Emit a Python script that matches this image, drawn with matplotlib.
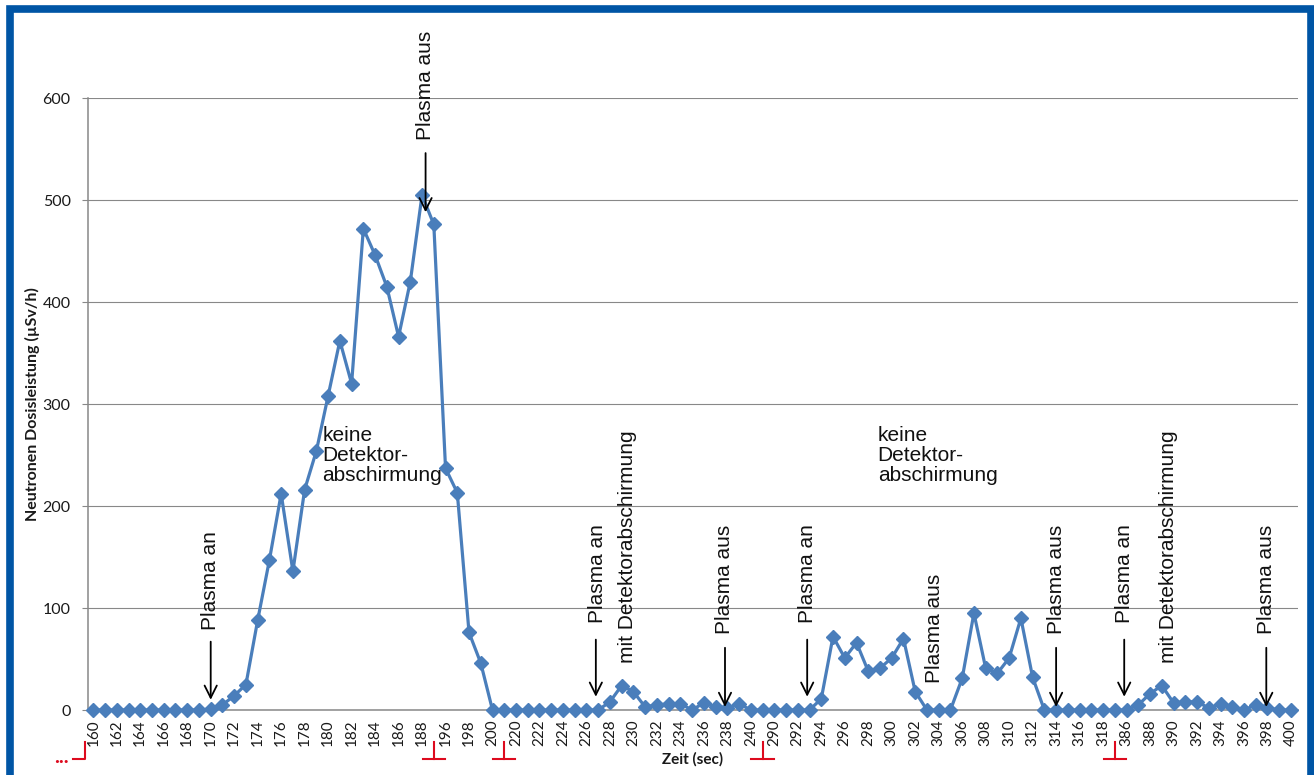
import numpy as np
import matplotlib
matplotlib.use("Agg")
from matplotlib import pyplot as plt
from matplotlib.patches import Rectangle
import matplotlib.transforms as mtransforms

plt.rcParams['font.family'] = ['Lato', 'DejaVu Sans']

# Zeitabschnitte (sec): Anfang und Ende jedes Abschnitts, der letzte Wert
# jedes Abschnitts ist die versteckte Kategorie an der Achsenunterbrechung
abschnitte = [(160, 189), (196, 201), (220, 241), (290, 319), (386, 400)]
zeit = []
for a, b in abschnitte:
    zeit += list(range(a, b + 1))

# Neutronen Dosisleistung (µSv/h)
dosis = [0, 0, 0, 0, 0, 0, 0, 0, 0, 0,
         1, 5, 14, 25, 88, 147, 212, 136, 216, 254,
         308, 362, 320, 472, 446, 415, 366, 420, 505, 476,
         237, 213, 76, 46, 0, 0,
         0, 0, 0, 0, 0, 0, 0, 0, 8, 24, 18, 3, 5, 6, 6, 0, 7, 3, 2, 6, 0, 0,
         0, 0, 0, 0, 11, 72, 51, 66, 38, 41, 51, 70, 18, 0, 0, 0,
         31, 95, 41, 36, 51, 90, 32, 0, 0, 0, 0, 0, 0, 0,
         0, 5, 16, 24, 7, 8, 8, 2, 6, 3, 0, 5, 2, 0, 0]

blau = '#4A7EBB'
rot = '#DD0A1E'
grau = '#888888'

fig = plt.figure(figsize=(13.14, 7.75), dpi=100)
ax = fig.add_axes([88/1314, 65/775, 1210/1314, 612/775])

x = np.arange(len(zeit))
ax.plot(x, dosis, color=blau, lw=2.3, marker='D', ms=7.2, clip_on=False, zorder=3)

ax.set_xlim(-0.45, len(zeit) - 0.4)
ax.set_ylim(0, 600)
ax.set_yticks(range(0, 601, 100))
ax.yaxis.grid(True, color=grau, lw=0.8)
ax.set_axisbelow(True)
ax.set_xticks(x[::2])
ax.set_xticklabels([str(t) for t in zeit[::2]], rotation=90, fontsize=11, color='#1a1a1a')
ax.tick_params(axis='x', length=0, pad=7)
ax.tick_params(axis='y', length=4.5, width=0.8, color=grau, pad=8, labelsize=11.5, labelcolor='#1a1a1a')
for s in ['top', 'right']:
    ax.spines[s].set_visible(False)
ax.spines['left'].set_color(grau)
ax.spines['left'].set_linewidth(1.1)
ax.spines['bottom'].set_color(grau)
ax.spines['bottom'].set_linewidth(1.1)

ax.set_xlabel('Zeit (sec)', fontsize=11, fontweight='bold', color='#1a1a1a', labelpad=4)
ax.set_ylabel('Neutronen Dosisleistung (µSv/h)', fontsize=11.5, fontweight='bold', color='#1a1a1a', labelpad=2)

# Achsenunterbrechungen (rot)
trans = mtransforms.blended_transform_factory(ax.transData, ax.transAxes)
pos = 0
for a, b in abschnitte[:-1]:
    pos += b - a + 1
    g = pos - 1
    ax.plot([g, g], [-0.052, -0.080], color=rot, lw=1.5, transform=trans, clip_on=False)
    ax.plot([g - 0.95, g + 0.95], [-0.080, -0.080], color=rot, lw=1.5, transform=trans, clip_on=False)
ax.plot([-0.68, -0.68, -1.7], [-0.052, -0.080, -0.080], color=rot, lw=1.5, transform=trans, clip_on=False)
ax.text(-2.75, -0.087, '...', color=rot, fontsize=15, fontweight='bold', ha='center', va='baseline',
        transform=trans)

# Beschriftungen
af = dict(family=['Liberation Sans', 'DejaVu Sans'], fontsize=15, color='#111111')
senkrecht = [
    (10, 78, 'Plasma an'),
    (28.3, 559, 'Plasma aus'),
    (42.9, 85, 'Plasma an'),
    (45.5, 46, 'mit Detektorabschirmung'),
    (53.8, 75, 'Plasma aus'),
    (60.8, 85, 'Plasma an'),
    (71.6, 26, 'Plasma aus'),
    (82, 75, 'Plasma aus'),
    (87.8, 85, 'Plasma an'),
    (91.6, 46, 'mit Detektorabschirmung'),
    (99.9, 75, 'Plasma aus'),
]
for xt, yt, txt in senkrecht:
    ax.text(xt, yt, txt, rotation=90, ha='center', va='bottom', **af)

pfeile = [(10, 67, 10), (28.3, 546, 488), (42.8, 69, 13), (53.8, 61, 3),
          (60.8, 69, 13), (82, 61, 3), (87.8, 69, 13), (99.9, 61, 3)]
for xp, y0, y1 in pfeile:
    ax.annotate('', xy=(xp, y1), xytext=(xp, y0),
                arrowprops=dict(arrowstyle='->', lw=1.3, color='black', mutation_scale=22,
                                shrinkA=0, shrinkB=0), zorder=4)

for xt in [19.5, 66.8]:
    ax.text(xt, 278, 'keine\nDetektor-\nabschirmung', ha='left', va='top', linespacing=1.05, **af)

# blauer Rahmen
fig.patches.append(Rectangle((10/1314, -0.1), 1301/1314, 1.1 - 9.5/775, fill=False,
                             lw=5.5, edgecolor='#0055A5', transform=fig.transFigure, figure=fig))

fig.savefig('out.png', dpi=100)
